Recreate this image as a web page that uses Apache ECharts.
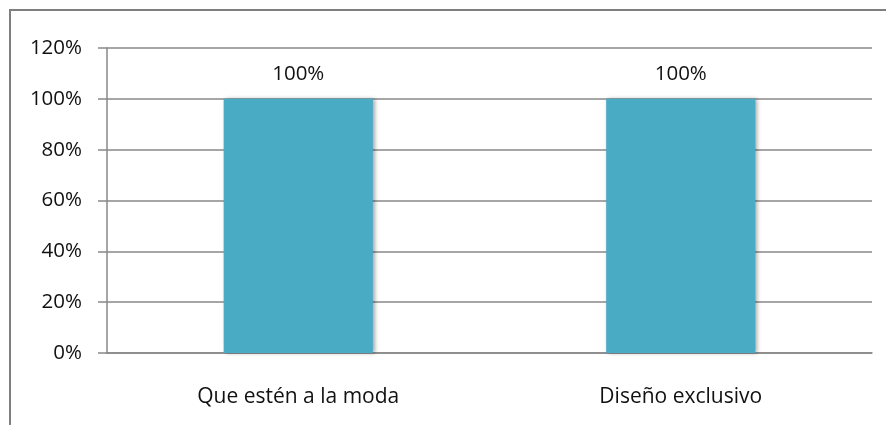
<!DOCTYPE html>
<html>
<head>
<meta charset="utf-8">
<script src="https://cdn.jsdelivr.net/npm/echarts@6/dist/echarts.min.js"></script>
<style>
html, body { margin: 0; padding: 0; background: #fff; }
#frame { position: absolute; left: 9px; top: 9px; width: 900px; height: 430px; border: 2px solid #7f7f7f; box-sizing: border-box; }
#main { position: absolute; left: 0; top: 0; width: 886px; height: 425px; }
</style>
</head>
<body>
<div id="frame"></div>
<div id="main"></div>
<script>
// categories and values (percent)
var categories = ['Que estén a la moda', 'Diseño exclusivo'];
var values = [100, 100];
var yTicks = [0, 20, 40, 60, 80, 100, 120];

var font = '"Open Sans", sans-serif';
var chart = echarts.init(document.getElementById('main'));
chart.setOption({
	animation: false,
	grid: { left: 107, right: 14, top: 48, bottom: 72 },
	xAxis: {
		type: 'category',
		data: categories,
		axisLine: { lineStyle: { color: '#888', width: 1.5 } },
		axisTick: { show: false },
		axisLabel: { color: '#111', fontFamily: font, fontSize: 21, margin: 34 }
	},
	yAxis: {
		type: 'value',
		min: yTicks[0],
		max: yTicks[yTicks.length - 1],
		interval: 20,
		axisLine: { show: true, lineStyle: { color: '#888', width: 1.5 } },
		axisTick: { show: true, length: 9, lineStyle: { color: '#888', width: 1.5 } },
		splitLine: { lineStyle: { color: '#888', width: 1.5 } },
		axisLabel: { color: '#111', fontFamily: font, fontSize: 20.5, margin: 25, formatter: '{value}%' }
	},
	series: [{
		type: 'bar',
		data: values,
		barWidth: '39%',
		itemStyle: {
			color: '#4aabc5',
			shadowColor: 'rgba(0,0,0,0.35)',
			shadowBlur: 4,
			shadowOffsetX: 2
		},
		label: {
			show: true,
			position: 'top',
			distance: 14,
			color: '#111',
			fontFamily: font,
			fontSize: 20.5,
			formatter: '{c}%'
		}
	}]
});
</script>
</body>
</html>
